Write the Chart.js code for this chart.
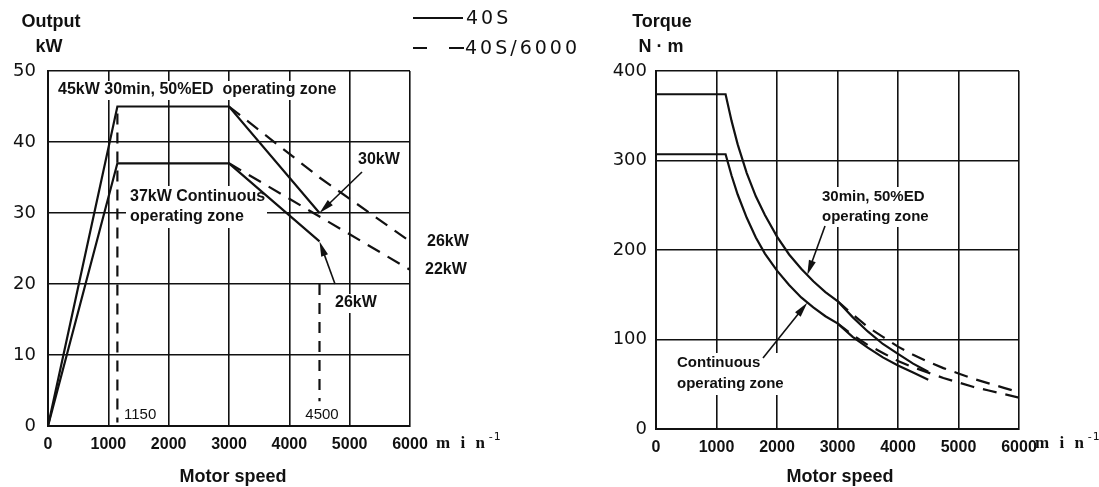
<!DOCTYPE html>
<html><head><meta charset="utf-8">
<script src="https://cdn.jsdelivr.net/npm/chart.js@4.4.1/dist/chart.umd.min.js"></script>
<style>
html,body{margin:0;padding:0;background:#fff;width:1099px;height:487px;overflow:hidden}
#w1{position:absolute;left:0;top:0;width:600px;height:487px}
#w2{position:absolute;left:560px;top:0;width:539px;height:487px}
</style></head><body>
<div id="w1"><canvas id="c1"></canvas></div>
<div id="w2"><canvas id="c2"></canvas></div>
<script>
// ---------- data ----------
const speedTicks = [0, 1000, 2000, 3000, 4000, 5000, 6000];
const outputTicks = [0, 10, 20, 30, 40, 50];
const torqueTicks = [0, 100, 200, 300, 400];

// Output chart (kW)
const out30Speed = [0, 1150, 3000, 4500];
const out30Kw = [0, 45, 45, 30];
const outContSpeed = [0, 1150, 3000, 4500];
const outContKw = [0, 37, 37, 26];
const out30Speed6000 = [3000, 4500, 6000];
const out30Kw6000 = [45, 35, 26];
const outContSpeed6000 = [3000, 6000];
const outContKw6000 = [37, 22];
const markerSpeeds = [1150, 4500];
const markerTop = [44, 20];
const markerBottom = [0.5, 3.5];

// Torque chart (N·m)
const trqSpeed = [0, 1150, 1250, 1350, 1500, 1650, 1800, 2000, 2200, 2400, 2600, 2800, 3000, 3250, 3500, 3750, 4000, 4250, 4500];
const trq30 = [374, 374, 344, 318, 286, 260, 239, 215, 195, 179, 165, 153, 143, 125, 109, 95, 84, 73, 64];
const trqCont = [307, 307, 283, 262, 236, 214, 196, 177, 161, 147, 136, 126, 118, 103, 91, 80, 71, 63, 55];
const trqSpeed6000 = [3000, 3250, 3500, 3750, 4000, 4250, 4500, 4750, 5000, 5250, 5500, 5750, 6000];
const trq30_6000 = [143, 128, 114, 103, 92, 83, 75, 68, 62, 56, 51, 46, 41];
const trqCont6000 = [118, 105, 94, 85, 76, 69, 63, 57, 52, 47, 43, 39, 35];

// ---------- helpers ----------
const zip = (xs, ys) => xs.map((x, i) => ({x: x, y: ys[i]}));
const INK = '#111';
const ANN = '"Liberation Sans", Arial, sans-serif';
const WIDE = '"DejaVu Sans", sans-serif';

function solid(data) {
  return {data: data, borderColor: INK, borderWidth: 2.2, pointRadius: 0, tension: 0, fill: false};
}
function dashed(data, dash) {
  return {data: data, borderColor: INK, borderWidth: 2.2, pointRadius: 0, tension: 0, fill: false, borderDash: dash || [14, 9]};
}

function drawArrow(ctx, fx, fy, tx, ty) {
  const dx = tx - fx, dy = ty - fy, L = Math.hypot(dx, dy);
  const ux = dx / L, uy = dy / L, nx = -uy, ny = ux;
  const hl = 15, hw = 3.6;
  ctx.beginPath(); ctx.moveTo(fx, fy); ctx.lineTo(tx - ux * hl * 0.6, ty - uy * hl * 0.6);
  ctx.lineWidth = 1.6; ctx.strokeStyle = INK; ctx.stroke();
  ctx.beginPath(); ctx.moveTo(tx, ty);
  ctx.lineTo(tx - ux * hl + nx * hw, ty - uy * hl + ny * hw);
  ctx.lineTo(tx - ux * hl - nx * hw, ty - uy * hl - ny * hw);
  ctx.closePath(); ctx.fillStyle = INK; ctx.fill();
}

function makeDeco(cfg) {
  const ox = cfg.ox;
  function text(ctx, t) {
    ctx.font = t.font; ctx.fillStyle = INK; ctx.textAlign = t.align || 'left'; ctx.textBaseline = 'middle';
    ctx.letterSpacing = t.ls || '0px';
    ctx.fillText(t.t, t.x - ox, t.y);
    ctx.letterSpacing = '0px';
  }
  return {
    id: 'deco' + ox,
    beforeDatasetsDraw(chart) {
      const ctx = chart.ctx; ctx.save(); ctx.fillStyle = '#fff';
      cfg.boxes.forEach(b => ctx.fillRect(b[0] - ox, b[1], b[2], b[3]));
      ctx.restore();
    },
    afterDatasetsDraw(chart) {
      const ctx = chart.ctx; ctx.save();
      const xs = chart.scales.x, ys = chart.scales.y;
      cfg.arrows.forEach(a => drawArrow(ctx, a.from[0] - ox, a.from[1], xs.getPixelForValue(a.tip[0]), ys.getPixelForValue(a.tip[1])));
      cfg.texts.forEach(t => text(ctx, t));
      ctx.restore();
    },
    afterDraw(chart) {
      const ctx = chart.ctx; ctx.save();
      const u = cfg.unit;
      ctx.fillStyle = INK; ctx.textBaseline = 'middle'; ctx.textAlign = 'left';
      ctx.font = 'bold 17px "Liberation Serif", serif';
      ctx.letterSpacing = '3px';
      ctx.fillText('m i n', u.x - ox, u.y);
      const w = ctx.measureText('m i n').width;
      ctx.letterSpacing = '1px';
      ctx.font = '11px "DejaVu Sans", sans-serif';
      ctx.fillText('-1', u.x - ox + w + 1, u.y - 7);
      ctx.letterSpacing = '0px';
      if (cfg.legend) {
        const L = cfg.legend;
        ctx.strokeStyle = INK; ctx.lineWidth = 2.2;
        ctx.beginPath(); ctx.moveTo(L.x - ox, L.y1); ctx.lineTo(L.x + 50 - ox, L.y1); ctx.stroke();
        ctx.beginPath(); ctx.moveTo(L.x - ox, L.y2); ctx.lineTo(L.x + 14 - ox, L.y2);
        ctx.moveTo(L.x + 36 - ox, L.y2); ctx.lineTo(L.x + 51 - ox, L.y2); ctx.stroke();
        ctx.font = '19px ' + WIDE; ctx.letterSpacing = '3px';
        ctx.fillText('40S', L.x + 53 - ox, L.y1 + 1);
        ctx.fillText('40S/6000', L.x + 52 - ox, L.y2 + 1);
        ctx.letterSpacing = '0px';
      }
      ctx.restore();
    }
  };
}

function makeChart(id, datasets, yTicks, yMax, layout, deco) {
  return new Chart(document.getElementById(id), {
    type: 'line',
    data: {datasets: datasets},
    plugins: [makeDeco(deco)],
    options: {
      responsive: true, maintainAspectRatio: false, animation: false, devicePixelRatio: 1,
      layout: {padding: layout.padding},
      plugins: {legend: {display: false}, tooltip: {enabled: false}, title: {display: false}},
      scales: {
        x: {
          type: 'linear', min: 0, max: 6000,
          afterBuildTicks: s => { s.ticks = speedTicks.map(v => ({value: v})); },
          afterFit: s => { s.height = 30; },
          grid: {color: INK, lineWidth: 1.6, drawTicks: false},
          border: {color: INK, width: 2},
          ticks: {color: INK, padding: 9, maxRotation: 0, autoSkip: false,
                  font: {family: ANN, size: 16, weight: 'bold'}, callback: v => String(v)}
        },
        y: {
          type: 'linear', min: 0, max: yMax,
          afterBuildTicks: s => { s.ticks = yTicks.map(v => ({value: v})); },
          afterFit: s => { s.width = layout.yWidth; },
          grid: {color: INK, lineWidth: 1.6, drawTicks: false},
          border: {color: INK, width: 2},
          ticks: {color: INK, padding: layout.yPad, font: {family: WIDE, size: 18, weight: 'normal'}, callback: v => String(v)}
        }
      }
    }
  });
}

// ---------- left: output ----------
makeChart('c1', [
  solid(zip(out30Speed, out30Kw)),
  solid(zip(outContSpeed, outContKw)),
  dashed(zip(out30Speed6000, out30Kw6000)),
  dashed(zip(outContSpeed6000, outContKw6000)),
  dashed([{x: markerSpeeds[0], y: markerTop[0]}, {x: markerSpeeds[0], y: markerBottom[0]}], [11, 8]),
  dashed([{x: markerSpeeds[1], y: markerTop[1]}, {x: markerSpeeds[1], y: markerBottom[1]}], [11, 8])
], outputTicks, 50,
  {padding: {top: 71, left: 0, right: 190, bottom: 31}, yWidth: 48, yPad: 12},
  {
    ox: 0,
    boxes: [[54, 81, 285, 19], [126, 186, 141, 42], [332, 294, 46, 19]],
    arrows: [{from: [362, 172], tip: [4500, 30]}, {from: [335, 284], tip: [4500, 26]}],
    texts: [
      {t: 'Output', x: 51, y: 22, font: 'bold 18px ' + ANN, align: 'center'},
      {t: 'kW', x: 49, y: 47, font: 'bold 18px ' + ANN, align: 'center'},
      {t: '45kW 30min, 50%ED  operating zone', x: 58, y: 90, font: 'bold 16px ' + ANN},
      {t: '37kW Continuous', x: 130, y: 197, font: 'bold 16px ' + ANN},
      {t: 'operating zone', x: 130, y: 217, font: 'bold 16px ' + ANN},
      {t: '30kW', x: 358, y: 160, font: 'bold 16px ' + ANN},
      {t: '26kW', x: 427, y: 242, font: 'bold 16px ' + ANN},
      {t: '22kW', x: 425, y: 270, font: 'bold 16px ' + ANN},
      {t: '26kW', x: 335, y: 303, font: 'bold 16px ' + ANN},
      {t: '1150', x: 124, y: 415, font: '15px ' + ANN},
      {t: '4500', x: 322, y: 415, font: '15px ' + ANN, align: 'center'},
      {t: 'Motor speed', x: 233, y: 477, font: 'bold 18px ' + ANN, align: 'center'}
    ],
    unit: {x: 436, y: 444},
    legend: {x: 413, y1: 18, y2: 48}
  });

// ---------- right: torque ----------
makeChart('c2', [
  solid(zip(trqSpeed, trq30)),
  solid(zip(trqSpeed, trqCont)),
  dashed(zip(trqSpeed6000, trq30_6000)),
  dashed(zip(trqSpeed6000, trqCont6000))
], torqueTicks, 400,
  {padding: {top: 71, left: 0, right: 80, bottom: 28}, yWidth: 96, yPad: 9},
  {
    ox: 560,
    boxes: [[818, 187, 111, 40], [673, 353, 122, 42]],
    arrows: [{from: [825, 226], tip: [2500, 172]}, {from: [763, 358], tip: [2500, 141]}],
    texts: [
      {t: 'Torque', x: 662, y: 22, font: 'bold 18px ' + ANN, align: 'center'},
      {t: 'N · m', x: 661, y: 47, font: 'bold 18px ' + ANN, align: 'center'},
      {t: '30min, 50%ED', x: 822, y: 197, font: 'bold 15px ' + ANN},
      {t: 'operating zone', x: 822, y: 217, font: 'bold 15px ' + ANN},
      {t: 'Continuous', x: 677, y: 363, font: 'bold 15px ' + ANN},
      {t: 'operating zone', x: 677, y: 384, font: 'bold 15px ' + ANN},
      {t: 'Motor speed', x: 840, y: 477, font: 'bold 18px ' + ANN, align: 'center'}
    ],
    unit: {x: 1035, y: 444},
    legend: null
  });
</script>
</body></html>
